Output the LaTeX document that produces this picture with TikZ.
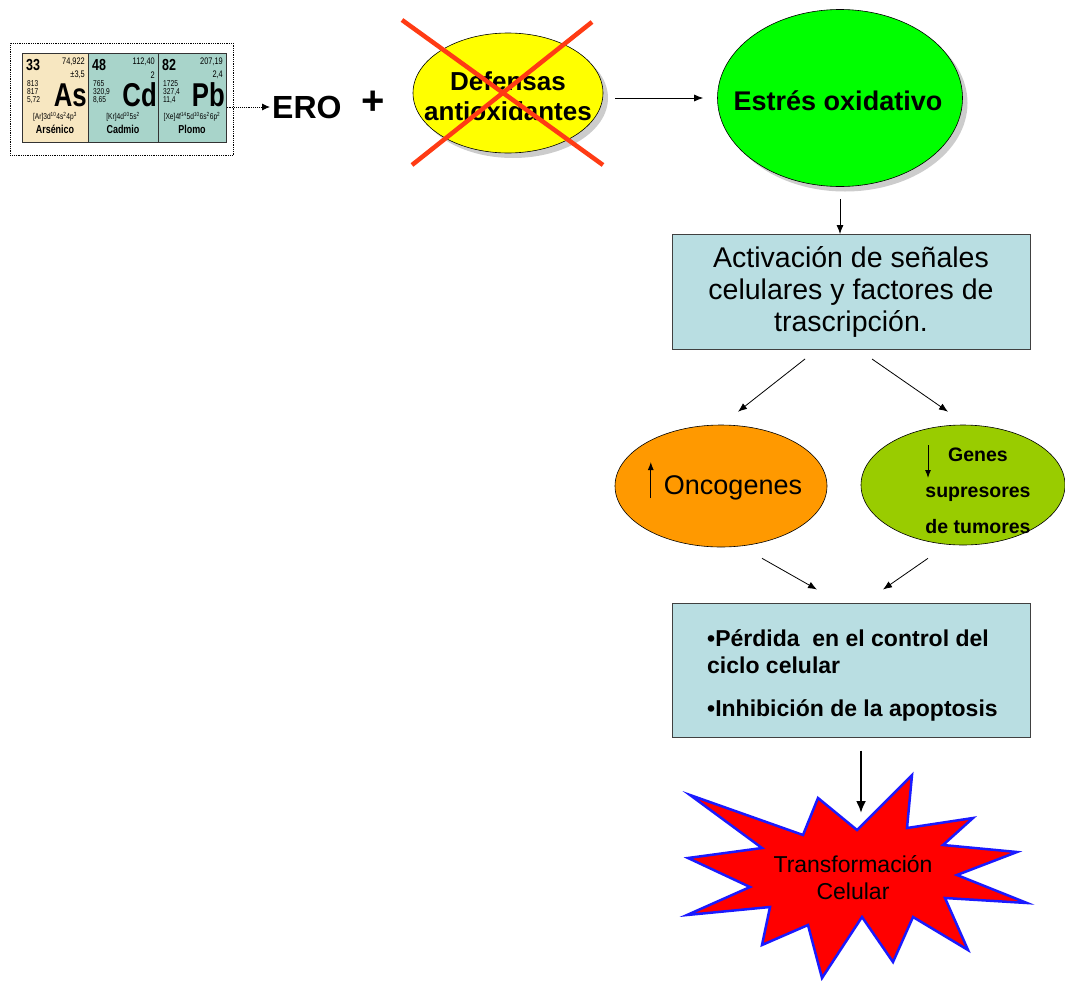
\documentclass[tikz,border=0pt]{standalone}
\usepackage{fontspec}
\setmainfont{Liberation Sans}
\newfontfamily\cellfont[FakeStretch=0.78]{Liberation Sans}
\usetikzlibrary{positioning,arrows.meta,shapes.geometric,shadows}
\definecolor{cYellow}{HTML}{FFFF00}
\definecolor{cGreen}{HTML}{00FF00}
\definecolor{cOrange}{HTML}{FF9900}
\definecolor{cLime}{HTML}{99CC00}
\definecolor{cBox}{HTML}{B9DEE2}
\definecolor{cCross}{HTML}{FF3B14}
\definecolor{cBeige}{HTML}{F7E7C1}
\definecolor{cTeal}{HTML}{A8D4CA}
\definecolor{cStar}{HTML}{FF0000}
\definecolor{cStarEdge}{HTML}{1A1AFF}
\newcommand{\fsz}[1]{\fontsize{#1}{#1}\selectfont}

\begin{document}
\begin{tikzpicture}[x=1pt,y=-1pt,
    arr/.style={-{Latex[length=9pt,width=7pt]},line width=0.8pt},
    bubble/.style={ellipse,draw=black,line width=0.6pt,inner sep=0pt},
    shade/.style={drop shadow={shadow xshift=5pt,shadow yshift=-5pt,fill=black!40}},
    panel/.style={rectangle,draw=black!75,line width=1pt,fill=cBox,inner sep=0pt},
    cell/.style={rectangle,draw=black!80,line width=0.6pt,anchor=north west,inner sep=0pt},
    cross/.style={cCross,line width=4.5pt},
    every node/.style={inner sep=0pt}]
  \useasboundingbox (0,0) rectangle (1065,980);

  % periodic table
  \node[draw,densely dotted,line width=0.8pt,anchor=north west,minimum width=223pt,minimum height=112pt] (ptable) at (10,43) {};
  \foreach \cx/\cw/\col/\z/\m/\e/\a/\b/\c/\s/\cf/\nm in {
      22/66/cBeige/33/{74,922}/{±3,5}/813/817/{5,72}/As/{[Ar]3d\textsuperscript{10}4s\textsuperscript{2}4p\textsuperscript{3}}/Arsénico,
      88/70/cTeal/48/{112,40}/2/765/{320,9}/{8,65}/Cd/{[Kr]4d\textsuperscript{10}5s\textsuperscript{2}}/Cadmio,
      158/68/cTeal/82/{207,19}/{2,4}/1725/{327,4}/{11,4}/Pb/{[Xe]4f\textsuperscript{14}5d\textsuperscript{10}6s\textsuperscript{2}6p\textsuperscript{2}}/Plomo} {
    \node[cell,fill=\col,minimum width=\cw pt,minimum height=89pt] (cell-\s) at (\cx,53) {};
    \node[anchor=west,font=\cellfont\bfseries\fsz{16}] (z-\s) at (\cx+4,65) {\z};
    \node[anchor=east,font=\cellfont\fsz{9.5}] (m-\s) at (\cx+\cw-3,62) {\m};
    \node[anchor=east,font=\cellfont\fsz{9.5}] (e-\s) at (\cx+\cw-3,75) {\e};
    \node[anchor=west,font=\cellfont\fsz{8.5}] (a-\s) at (\cx+5,84) {\a};
    \node[anchor=west,font=\cellfont\fsz{8.5}] (b-\s) at (\cx+5,92) {\b};
    \node[anchor=west,font=\cellfont\fsz{8.5}] (c-\s) at (\cx+5,100) {\c};
    \node[anchor=east,font=\cellfont\bfseries\fsz{33}] (sym-\s) at (\cx+\cw-1,95) {\s};
    \node[font=\cellfont\fsz{8.5}] (cf-\s) at (\cx+\cw/2,117) {\cf};
    \node[font=\cellfont\bfseries\fsz{11.5}] (nm-\s) at (\cx+\cw/2,129) {\nm};
  }

  \node[anchor=west,inner sep=2pt,font=\bfseries\fsz{32}] (ero) at (270,107) {ERO};
  \node[font=\bfseries\fsz{40}] (plus) at (373,103) {+};
  \draw[densely dotted,line width=0.9pt,-{Latex[length=8pt,width=7pt]}] (cell-Pb.east |- ero.west) -- (ero.west);

  \node[bubble,shade,fill=cYellow,minimum width=190pt,minimum height=120pt] (defensas) at (508,93) {};
  \node[font=\bfseries\fontsize{26}{30}\selectfont,align=center] (defensas-txt) at (508,96) {Defensas\\antioxidantes};
  \draw[cross] (402,20) -- (603,165);
  \draw[cross] (592,22) -- (412,165);

  \node[bubble,shade,fill=cGreen,minimum width=245pt,minimum height=177pt] (estres) at (840,98) {};
  \node[font=\bfseries\fsz{27}] (estres-txt) at (838,101) {Estrés oxidativo};
  \draw[arr] ([xshift=12pt]defensas.east |- estres.west) -- ([xshift=-14pt]estres.west);

  \node[panel,minimum width=358pt,minimum height=115pt,align=center,font=\fontsize{28.5}{32}\selectfont] (activ) at (851,292)
    {Activación de señales\\celulares y factores de\\trascripción.};
  \draw[arr] ([yshift=-12pt]estres.south) -- (estres.south |- activ.north);

  \node[bubble,fill=cOrange,minimum width=212pt,minimum height=122pt] (oncog) at (721,486) {};
  \node[font=\fsz{27}] (oncog-txt) at (733,488) {Oncogenes};
  \draw[-{Latex[length=8pt,width=6pt]},line width=1pt] ([xshift=-13pt,yshift=-10pt]oncog-txt.west) -- ([xshift=-13pt,yshift=26pt]oncog-txt.west);

  \node[bubble,fill=cLime,minimum width=204pt,minimum height=120pt] (genes) at (963,485) {};
  \node[font=\bfseries\fontsize{19.5}{36}\selectfont,align=center] (genes-txt) at (978,491) {Genes\\supresores\\de tumores};
  \draw[-{Latex[length=8pt,width=6pt]},line width=1pt] (928,445) -- (928,478);

  \draw[arr] ([xshift=-46pt,yshift=-9pt]activ.south) -- ([xshift=17pt,yshift=13pt]oncog.north);
  \draw[arr] ([xshift=21pt,yshift=-9pt]activ.south) -- ([xshift=-15pt,yshift=13pt]genes.north);

  \node[panel,minimum width=358pt,minimum height=134pt] (perdida) at (851,670) {};
  \node[anchor=north west,align=left,font=\bfseries\fontsize{23}{27}\selectfont] (perdida-txt) at (707,629)
    {•Pérdida\ \ en el control del\\ciclo celular\\[16pt]•Inhibición de la apoptosis};
  \draw[arr] ([xshift=41pt,yshift=-11pt]oncog.south) -- ([xshift=-34pt,yshift=13pt]perdida.north);
  \draw[arr] ([xshift=-35pt,yshift=-13pt]genes.south) -- ([xshift=32pt,yshift=13pt]perdida.north);

  % burst
  \draw[fill=cStar,draw=cStarEdge,line width=2.5pt,line join=miter] (690,795) -- (803,835) -- (818,798) -- (857,830)
    -- (912,775) -- (907,828) -- (973,818) -- (943,845) -- (1017,852) -- (957,875) -- (1027,903)
    -- (945,898) -- (968,950) -- (913,917) -- (893,962) -- (862,917) -- (822,978) -- (808,925)
    -- (762,945) -- (770,907) -- (687,915) -- (750,887) -- (688,858) -- (762,848) -- cycle;
  \node[align=center,font=\fontsize{23}{27}\selectfont] (trans) at (853,878) {Transformación\\Celular};
  \coordinate (tip) at (861,813);
  \draw[-{Latex[length=12pt,width=10pt]},line width=2.2pt] ([xshift=10pt,yshift=-13pt]perdida.south) -- (tip);
\end{tikzpicture}
\end{document}
